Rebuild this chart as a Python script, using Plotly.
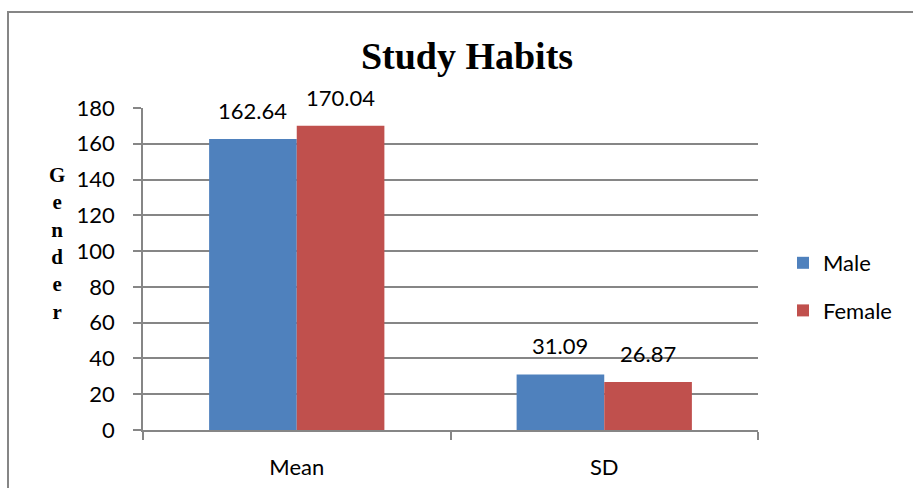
import plotly.graph_objects as go

categories = ["Mean", "SD"]
male_values = [162.64, 31.09]
female_values = [170.04, 26.87]
series_names = ["Male", "Female"]
series_colors = ["#4F81BD", "#C0504D"]
title_text = "Study Habits"
y_title = "Gender"
y_ticks = [0, 20, 40, 60, 80, 100, 120, 140, 160, 180]

L, R, T, B = 143, 155, 108, 58
W, H = 913, 488
pw = W - L - R
ph = H - T - B

fig = go.Figure()
for i, (name, vals, col) in enumerate(zip(series_names, [male_values, female_values], series_colors)):
    fig.add_trace(go.Bar(
        x=categories, y=vals, name=name, marker=dict(color=col, line=dict(width=0)),
        legendgroup=name,
    ))

font_main = "Lato, Carlito, Calibri, sans-serif"
annotations = []
bar_w = 88
for vals, shift in [(male_values, -bar_w / 2), (female_values, bar_w / 2)]:
    for c, v in zip(categories, vals):
        annotations.append(dict(
            x=c, y=v, xref="x", yref="y", text=f"{v:.2f}", showarrow=False,
            xshift=shift, yshift=13, yanchor="bottom",
            font=dict(family=font_main, size=22, color="#000000"),
        ))

annotations.append(dict(
    xref="paper", yref="paper", x=(57 - L) / pw, y=(H - B - 243) / ph,
    text="<br>".join("<b>" + ch + "</b>" for ch in y_title), showarrow=False,
    xanchor="center", yanchor="middle",
    font=dict(family="Liberation Serif, Times New Roman, serif", size=21, color="#000000"),
))

fig.update_layout(
    width=W, height=H,
    margin=dict(l=L, r=R, t=T, b=B, autoexpand=False),
    paper_bgcolor="white", plot_bgcolor="white",
    bargap=0.43, bargroupgap=0,
    title=dict(text="<b>" + title_text + "</b>", x=(467 - L) / pw, xref="paper", xanchor="center",
               y=1 - 56 / H, yanchor="middle",
               font=dict(family="Liberation Serif, Times New Roman, serif", size=38, color="#000000")),
    showlegend=True,
    legend=dict(x=(783 - L) / pw, xanchor="left", y=(H - B - 287) / ph, yanchor="middle",
                font=dict(family=font_main, size=22, color="#000000"),
                tracegroupgap=16, bgcolor="rgba(0,0,0,0)"),
    annotations=annotations,
    shapes=[dict(type="rect", xref="paper", yref="paper",
                 x0=(8 - L) / pw, x1=(W + 10 - L) / pw,
                 y0=(H - B - (H + 10)) / ph, y1=(H - B - 12) / ph,
                 line=dict(color="#868686", width=2), fillcolor="rgba(0,0,0,0)", layer="below")],
)

fig.update_xaxes(
    showline=True, linecolor="#868686", linewidth=1.5,
    ticks="outside", ticklen=8, tickcolor="#868686", tickwidth=1.5,
    tickson="boundaries", ticklabelstandoff=17, automargin=False,
    tickfont=dict(family=font_main, size=22, color="#000000"),
    showgrid=False,
)
fig.update_yaxes(
    range=[0, 180], tickvals=y_ticks,
    showline=True, linecolor="#868686", linewidth=1.5,
    ticks="outside", ticklen=8, tickcolor="#868686", tickwidth=1.5,
    showgrid=True, gridcolor="#868686", gridwidth=1.5, automargin=False,
    zeroline=False, ticklabelstandoff=14,
    tickfont=dict(family=font_main, size=22, color="#000000"),
)

fig.write_html("out.html", config={"displayModeBar": False},
               post_script="document.body.style.margin='0';document.body.style.padding='0';")
